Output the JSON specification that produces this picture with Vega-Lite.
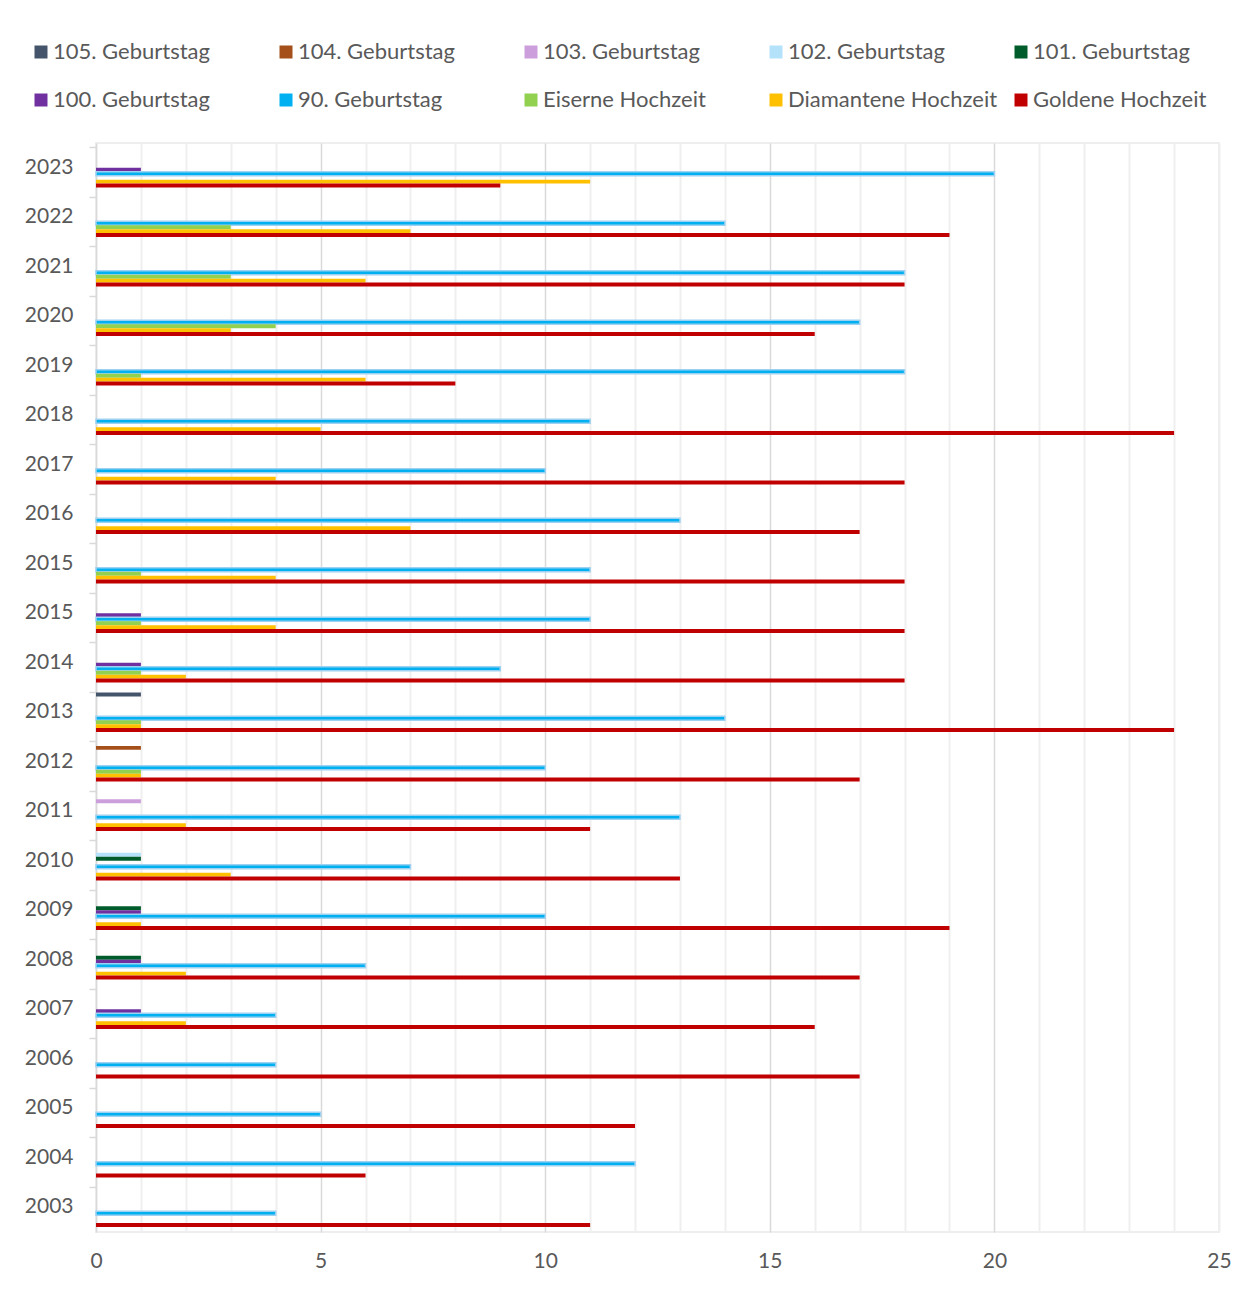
{
  "$schema": "https://vega.github.io/schema/vega-lite/v6.json",
  "width": 1123,
  "height": 1089,
  "autosize": {"type": "none"},
  "padding": {"left": 96, "top": 143, "right": 36, "bottom": 60},
  "background": "white",
  "config": {"view": {"stroke": "#eeeeee", "strokeWidth": 2}, "font": "Lato"},
  "data": {"values": [
    {"year": "2023", "series": "100. Geburtstag", "value": 1},
    {"year": "2023", "series": "90. Geburtstag", "value": 20},
    {"year": "2023", "series": "Diamantene Hochzeit", "value": 11},
    {"year": "2023", "series": "Goldene Hochzeit", "value": 9},
    {"year": "2022", "series": "90. Geburtstag", "value": 14},
    {"year": "2022", "series": "Eiserne Hochzeit", "value": 3},
    {"year": "2022", "series": "Diamantene Hochzeit", "value": 7},
    {"year": "2022", "series": "Goldene Hochzeit", "value": 19},
    {"year": "2021", "series": "90. Geburtstag", "value": 18},
    {"year": "2021", "series": "Eiserne Hochzeit", "value": 3},
    {"year": "2021", "series": "Diamantene Hochzeit", "value": 6},
    {"year": "2021", "series": "Goldene Hochzeit", "value": 18},
    {"year": "2020", "series": "90. Geburtstag", "value": 17},
    {"year": "2020", "series": "Eiserne Hochzeit", "value": 4},
    {"year": "2020", "series": "Diamantene Hochzeit", "value": 3},
    {"year": "2020", "series": "Goldene Hochzeit", "value": 16},
    {"year": "2019", "series": "90. Geburtstag", "value": 18},
    {"year": "2019", "series": "Eiserne Hochzeit", "value": 1},
    {"year": "2019", "series": "Diamantene Hochzeit", "value": 6},
    {"year": "2019", "series": "Goldene Hochzeit", "value": 8},
    {"year": "2018", "series": "90. Geburtstag", "value": 11},
    {"year": "2018", "series": "Diamantene Hochzeit", "value": 5},
    {"year": "2018", "series": "Goldene Hochzeit", "value": 24},
    {"year": "2017", "series": "90. Geburtstag", "value": 10},
    {"year": "2017", "series": "Diamantene Hochzeit", "value": 4},
    {"year": "2017", "series": "Goldene Hochzeit", "value": 18},
    {"year": "2016", "series": "90. Geburtstag", "value": 13},
    {"year": "2016", "series": "Diamantene Hochzeit", "value": 7},
    {"year": "2016", "series": "Goldene Hochzeit", "value": 17},
    {"year": "2015_1", "series": "90. Geburtstag", "value": 11},
    {"year": "2015_1", "series": "Eiserne Hochzeit", "value": 1},
    {"year": "2015_1", "series": "Diamantene Hochzeit", "value": 4},
    {"year": "2015_1", "series": "Goldene Hochzeit", "value": 18},
    {"year": "2015_2", "series": "100. Geburtstag", "value": 1},
    {"year": "2015_2", "series": "90. Geburtstag", "value": 11},
    {"year": "2015_2", "series": "Eiserne Hochzeit", "value": 1},
    {"year": "2015_2", "series": "Diamantene Hochzeit", "value": 4},
    {"year": "2015_2", "series": "Goldene Hochzeit", "value": 18},
    {"year": "2014", "series": "100. Geburtstag", "value": 1},
    {"year": "2014", "series": "90. Geburtstag", "value": 9},
    {"year": "2014", "series": "Eiserne Hochzeit", "value": 1},
    {"year": "2014", "series": "Diamantene Hochzeit", "value": 2},
    {"year": "2014", "series": "Goldene Hochzeit", "value": 18},
    {"year": "2013", "series": "105. Geburtstag", "value": 1},
    {"year": "2013", "series": "90. Geburtstag", "value": 14},
    {"year": "2013", "series": "Eiserne Hochzeit", "value": 1},
    {"year": "2013", "series": "Diamantene Hochzeit", "value": 1},
    {"year": "2013", "series": "Goldene Hochzeit", "value": 24},
    {"year": "2012", "series": "104. Geburtstag", "value": 1},
    {"year": "2012", "series": "90. Geburtstag", "value": 10},
    {"year": "2012", "series": "Eiserne Hochzeit", "value": 1},
    {"year": "2012", "series": "Diamantene Hochzeit", "value": 1},
    {"year": "2012", "series": "Goldene Hochzeit", "value": 17},
    {"year": "2011", "series": "103. Geburtstag", "value": 1},
    {"year": "2011", "series": "90. Geburtstag", "value": 13},
    {"year": "2011", "series": "Diamantene Hochzeit", "value": 2},
    {"year": "2011", "series": "Goldene Hochzeit", "value": 11},
    {"year": "2010", "series": "102. Geburtstag", "value": 1},
    {"year": "2010", "series": "101. Geburtstag", "value": 1},
    {"year": "2010", "series": "90. Geburtstag", "value": 7},
    {"year": "2010", "series": "Diamantene Hochzeit", "value": 3},
    {"year": "2010", "series": "Goldene Hochzeit", "value": 13},
    {"year": "2009", "series": "101. Geburtstag", "value": 1},
    {"year": "2009", "series": "100. Geburtstag", "value": 1},
    {"year": "2009", "series": "90. Geburtstag", "value": 10},
    {"year": "2009", "series": "Diamantene Hochzeit", "value": 1},
    {"year": "2009", "series": "Goldene Hochzeit", "value": 19},
    {"year": "2008", "series": "101. Geburtstag", "value": 1},
    {"year": "2008", "series": "100. Geburtstag", "value": 1},
    {"year": "2008", "series": "90. Geburtstag", "value": 6},
    {"year": "2008", "series": "Diamantene Hochzeit", "value": 2},
    {"year": "2008", "series": "Goldene Hochzeit", "value": 17},
    {"year": "2007", "series": "100. Geburtstag", "value": 1},
    {"year": "2007", "series": "90. Geburtstag", "value": 4},
    {"year": "2007", "series": "Diamantene Hochzeit", "value": 2},
    {"year": "2007", "series": "Goldene Hochzeit", "value": 16},
    {"year": "2006", "series": "90. Geburtstag", "value": 4},
    {"year": "2006", "series": "Goldene Hochzeit", "value": 17},
    {"year": "2005", "series": "90. Geburtstag", "value": 5},
    {"year": "2005", "series": "Goldene Hochzeit", "value": 12},
    {"year": "2004", "series": "90. Geburtstag", "value": 12},
    {"year": "2004", "series": "Goldene Hochzeit", "value": 6},
    {"year": "2003", "series": "90. Geburtstag", "value": 4},
    {"year": "2003", "series": "Goldene Hochzeit", "value": 11}
  ]},
  "mark": {"type": "bar", "strokeWidth": 1.5},
  "encoding": {
    "y": {
      "field": "year", "type": "nominal",
      "sort": ["2023","2022","2021","2020","2019","2018","2017","2016","2015_1","2015_2","2014","2013","2012","2011","2010","2009","2008","2007","2006","2005","2004","2003"],
      "scale": {"paddingInner": 0.2, "paddingOuter": 0.1},
      "axis": {
        "title": null, "grid": false, "bandPosition": 0,
        "domainColor": "#d9d9d9", "domainWidth": 1.5,
        "tickColor": "#d9d9d9", "tickWidth": 1.5, "tickSize": 7,
        "labelPadding": 16, "labelFontSize": 21, "labelColor": "#595959",
        "labelExpr": "substring(datum.label, 0, 4)"
      }
    },
    "yOffset": {
      "field": "series", "type": "nominal",
      "scale": {"domain": ["105. Geburtstag","104. Geburtstag","103. Geburtstag","102. Geburtstag","101. Geburtstag","100. Geburtstag","90. Geburtstag","Eiserne Hochzeit","Diamantene Hochzeit","Goldene Hochzeit"], "paddingInner": 0, "paddingOuter": 0}
    },
    "x": {
      "field": "value", "type": "quantitative",
      "scale": {"domain": [0, 25], "nice": false},
      "axis": {
        "title": null, "domain": false, "ticks": false,
        "values": [0,1,2,3,4,5,6,7,8,9,10,11,12,13,14,15,16,17,18,19,20,21,22,23,24,25],
        "labelExpr": "datum.value % 5 === 0 ? datum.label : ''",
        "labelOverlap": false, "labelFlush": false,
        "labelPadding": 18, "labelFontSize": 21, "labelColor": "#595959",
        "gridColor": {"condition": {"test": "datum.value % 5 === 0 && datum.value > 0 && datum.value < 25", "value": "#d9d9d9"}, "value": "#efefef"},
        "gridWidth": {"condition": {"test": "datum.value % 5 === 0 && datum.value > 0 && datum.value < 25", "value": 1.5}, "value": 2}
      }
    },
    "color": {
      "field": "series", "type": "nominal",
      "scale": {
        "domain": ["105. Geburtstag","104. Geburtstag","103. Geburtstag","102. Geburtstag","101. Geburtstag","100. Geburtstag","90. Geburtstag","Eiserne Hochzeit","Diamantene Hochzeit","Goldene Hochzeit"],
        "range": ["#44546a","#a5501b","#cc9edc","#b4e2fb","#005c2b","#7030a0","#00b0f0","#92d050","#ffc000","#c00000"]
      },
      "legend": {
        "title": null, "orient": "none", "legendX": -66, "legendY": -102,
        "direction": "horizontal", "columns": 5, "gridAlign": "all",
        "columnPadding": 12, "rowPadding": 26,
        "symbolType": "square", "symbolSize": 169, "symbolOpacity": 1,
        "labelFontSize": 22, "labelColor": "#595959", "labelOffset": 1, "labelLimit": 400,
        "encode": {"symbols": {"update": {"stroke": {"signal": "datum.label === '90. Geburtstag' ? '#9dd1f2' : 'transparent'"}, "strokeWidth": {"value": 2}}}}
      }
    },
    "stroke": {
      "condition": {"test": "datum.series === '90. Geburtstag'", "value": "#9dd1f2"},
      "value": "transparent"
    }
  }
}
